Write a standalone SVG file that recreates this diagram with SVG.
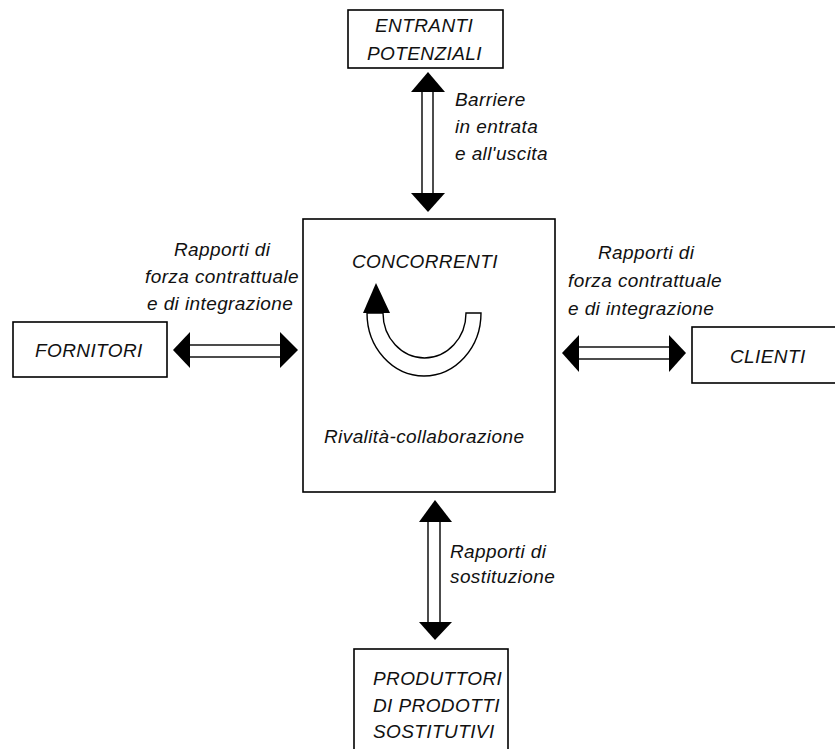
<svg xmlns="http://www.w3.org/2000/svg" width="835" height="749" viewBox="0 0 835 749">
<style>
.box{fill:#fff;stroke:#000;stroke-width:1.6}
.t{font-family:"Liberation Sans",Arial,sans-serif;font-style:italic;font-size:19px;letter-spacing:0.4px;fill:#111}
.shaft{fill:#fff;stroke:#000;stroke-width:1.4}
.head{fill:#000;stroke:none}
</style>
<rect width="835" height="749" fill="#fff"/>
<g id="connectors">
  <!-- top vertical arrow -->
  <rect class="shaft" x="422" y="90" width="11" height="105"/>
  <polygon class="head" points="428,72 445,92 411,92"/>
  <polygon class="head" points="411,193 445,193 428,212"/>
  <!-- left horizontal arrow -->
  <rect class="shaft" x="188" y="345" width="94" height="12"/>
  <polygon class="head" points="173,350 190,332 190,368"/>
  <polygon class="head" points="280,332 298,350 280,368"/>
  <!-- right horizontal arrow -->
  <rect class="shaft" x="577" y="347" width="94" height="12"/>
  <polygon class="head" points="562,353 579,335 579,372"/>
  <polygon class="head" points="669,335 686,353 669,372"/>
  <!-- bottom vertical arrow -->
  <rect class="shaft" x="428" y="520" width="12" height="104"/>
  <polygon class="head" points="435,500 452,522 419,522"/>
  <polygon class="head" points="419,622 452,622 435,640"/>
  <text class="t" x="455" y="106">Barriere</text>
  <text class="t" x="455" y="133">in entrata</text>
  <text class="t" x="455" y="160">e all'uscita</text>
  <text class="t" x="174" y="256">Rapporti di</text>
  <text class="t" x="145" y="283">forza contrattuale</text>
  <text class="t" x="147" y="310">e di integrazione</text>
  <text class="t" x="598" y="259">Rapporti di</text>
  <text class="t" x="568" y="287">forza contrattuale</text>
  <text class="t" x="568" y="315">e di integrazione</text>
  <text class="t" x="450" y="558">Rapporti di</text>
  <text class="t" x="450" y="583">sostituzione</text>
</g>
<g id="entranti">
  <rect class="box" x="348" y="10" width="155" height="58"/>
  <text class="t" x="375" y="32">ENTRANTI</text>
  <text class="t" x="367" y="60">POTENZIALI</text>
</g>
<g id="concorrenti">
  <rect class="box" x="303" y="219" width="252" height="273"/>
  <text class="t" x="352" y="268">CONCORRENTI</text>
  <path d="M367,313 A57,63 0 0 0 481,313 L466,313 A41.5,45 0 0 1 383,313 Z" fill="#fff" stroke="#000" stroke-width="1.4"/>
  <polygon class="head" points="376,283 390,313 363,313"/>
  <text class="t" x="324" y="443">Rivalità-collaborazione</text>
</g>
<g id="fornitori">
  <rect class="box" x="13" y="322" width="154" height="55"/>
  <text class="t" x="35" y="357">FORNITORI</text>
</g>
<g id="clienti">
  <rect class="box" x="692" y="327" width="150" height="56"/>
  <text class="t" x="730" y="363">CLIENTI</text>
</g>
<g id="produttori">
  <rect class="box" x="354" y="649" width="154" height="110"/>
  <text class="t" x="373" y="685">PRODUTTORI</text>
  <text class="t" x="373" y="712">DI PRODOTTI</text>
  <text class="t" x="373" y="738">SOSTITUTIVI</text>
</g>
</svg>
